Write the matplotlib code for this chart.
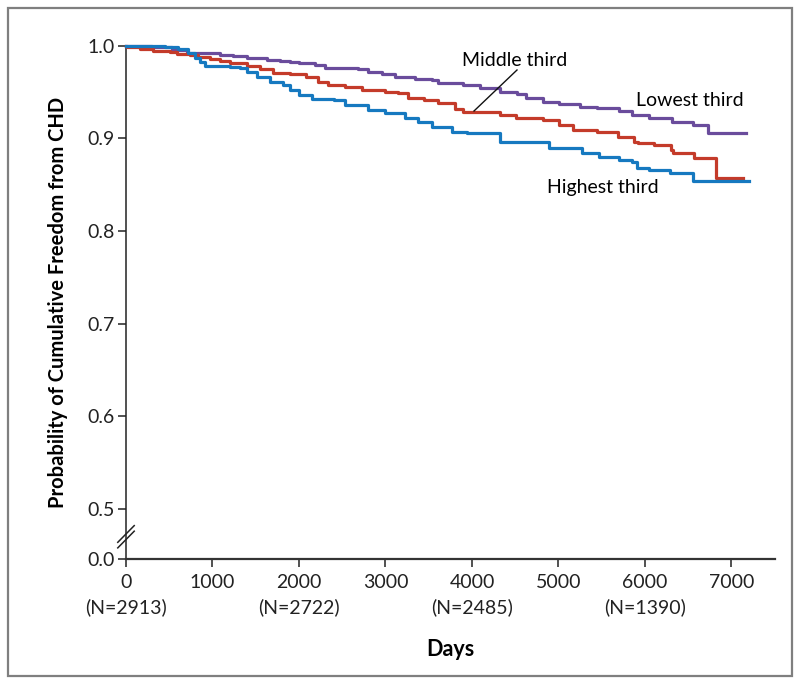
import matplotlib
matplotlib.use("Agg")
import matplotlib.pyplot as plt
from matplotlib.patches import Rectangle
from matplotlib.lines import Line2D

plt.rcParams['font.family'] = ['Lato', 'DejaVu Sans']

# step points (days, probability)
low_days = [0, 300, 530, 700, 971, 1087, 1237, 1399, 1630, 1780, 1896, 2000, 2190, 2300,
            2680, 2800, 2960, 3110, 3340, 3540, 3610, 3800, 3900, 4090, 4320, 4520, 4630,
            4820, 5010, 5250, 5440, 5700, 5850, 6050, 6310, 6550, 6730, 7164]
low_surv = [1.0, 0.998, 0.995, 0.9922, 0.9916, 0.9898, 0.9887, 0.9862, 0.9844, 0.9833, 0.9819,
            0.9808, 0.979, 0.9754, 0.9746, 0.9717, 0.9689, 0.9663, 0.9635, 0.9628, 0.9599,
            0.9592, 0.9574, 0.9538, 0.9502, 0.9477, 0.943, 0.9387, 0.9366, 0.934, 0.9329,
            0.9297, 0.925, 0.9215, 0.9178, 0.9142, 0.9053, 0.9053]

mid_days = [0, 12, 160, 312, 509, 590, 740, 832, 971, 1087, 1202, 1399, 1549, 1700, 1896,
            2080, 2225, 2340, 2530, 2730, 2990, 3140, 3260, 3450, 3610, 3800, 3896, 4020,
            4320, 4510, 4820, 5010, 5165, 5440, 5690, 5870, 5920, 6100, 6300, 6320, 6570,
            6820, 7130]
mid_surv = [1.0, 0.9987, 0.9962, 0.9944, 0.9927, 0.991, 0.9898, 0.9873, 0.9854, 0.9836,
            0.9808, 0.9779, 0.9743, 0.9707, 0.969, 0.9663, 0.961, 0.9574, 0.9556, 0.952,
            0.950, 0.9484, 0.943, 0.9412, 0.9376, 0.932, 0.9286, 0.928, 0.925, 0.9215,
            0.9196, 0.9142, 0.9088, 0.9064, 0.9016, 0.8962, 0.8945, 0.8927, 0.8873, 0.8843,
            0.8783, 0.857, 0.857]

high_days = [0, 450, 600, 717, 800, 855, 913, 1202, 1318, 1399, 1514, 1665, 1815, 1896, 2000,
             2150, 2410, 2530, 2800, 2990, 3225, 3375, 3535, 3770, 3940, 4320, 4740, 4890,
             5270, 5470, 5700, 5850, 5910, 6050, 6290, 6560, 7200]
high_surv = [1.0, 0.9987, 0.996, 0.992, 0.987, 0.9825, 0.978, 0.977, 0.9757, 0.9714, 0.966,
             0.961, 0.957, 0.952, 0.9466, 0.942, 0.941, 0.936, 0.930, 0.927, 0.922, 0.918,
             0.912, 0.907, 0.9056, 0.896, 0.8959, 0.889, 0.884, 0.880, 0.8765, 0.8747,
             0.868, 0.8657, 0.862, 0.854, 0.854]

x_ticks = [0, 1000, 2000, 3000, 4000, 5000, 6000, 7000]
n_at_risk = {0: 2913, 2000: 2722, 4000: 2485, 6000: 1390}
y_ticks = [0.5, 0.6, 0.7, 0.8, 0.9, 1.0]

# broken axis: 0.0 sits a short gap below 0.5
y_zero = 0.446

fig = plt.figure(figsize=(8, 6.84), dpi=100)
ax = fig.add_axes([126 / 800, 1 - 559 / 684, 649 / 800, (559 - 45.5) / 684])

c_low, c_mid, c_high = "#6a4c9c", "#c43b2a", "#1679c0"
ax.step(low_days, low_surv, where="post", color=c_low, lw=2.3, clip_on=False, zorder=3)
ax.step(mid_days, mid_surv, where="post", color=c_mid, lw=2.3, clip_on=False, zorder=4)
ax.step(high_days, high_surv, where="post", color=c_high, lw=2.3, clip_on=False, zorder=5)

ax.set_xlim(0, 7503)
ax.set_ylim(y_zero, 1.0)

for s in ["top", "right"]:
    ax.spines[s].set_visible(False)
ax.spines["left"].set_linewidth(1.1)
ax.spines["bottom"].set_linewidth(1.6)
ax.spines["left"].set_color("#222222")
ax.spines["bottom"].set_color("#333333")

ax.set_yticks([y_zero] + y_ticks)
ax.set_yticklabels(["0.0"] + ["%.1f" % v for v in y_ticks])
xl = []
for t in x_ticks:
    if t in n_at_risk:
        xl.append("%d\n(N=%d)" % (t, n_at_risk[t]))
    else:
        xl.append("%d" % t)
ax.set_xticks(x_ticks)
ax.set_xticklabels(xl)
for lab in ax.get_xticklabels():
    lab.set_linespacing(1.5)

ax.tick_params(axis="both", direction="out", length=6, width=1.1, labelsize=14,
               colors="#222222")
ax.tick_params(axis="y", pad=2)
ax.tick_params(axis="x", pad=5)

ax.set_ylabel("Probability of Cumulative Freedom from CHD", fontsize=14.5, fontweight="bold",
              labelpad=14)
ax.set_xlabel("Days", fontsize=15.5, fontweight="bold", labelpad=16)

# axis break marks
for dy in [0.0, 0.006]:
    ax.add_line(Line2D([-95, 95], [0.458 + dy, 0.476 + dy], color="#222222", lw=1.1,
                       clip_on=False))

ax.text(515, 60, "Middle third", fontsize=14, ha="center", va="center",
        transform=None)
ax.text(690, 101, "Lowest third", fontsize=14, ha="center", va="center", transform=None)
ax.text(603, 187, "Highest third", fontsize=14, ha="center", va="center", transform=None)

# redo labels in figure pixel coordinates (origin top-left)
for t in list(ax.texts):
    x, y = t.get_position()
    t.set_transform(fig.transFigure)
    t.set_position((x / 800, 1 - y / 684))

fig.add_artist(Line2D([517 / 800, 474 / 800], [1 - 70 / 684, 1 - 111 / 684], color="#111111",
                      lw=1.0))

fig.patches.append(Rectangle((8 / 800, 8 / 684), 784 / 800, 668 / 684, fill=False,
                             edgecolor="#7f7f7f", lw=1.6, transform=fig.transFigure,
                             figure=fig))

fig.savefig("out.png", dpi=100)
